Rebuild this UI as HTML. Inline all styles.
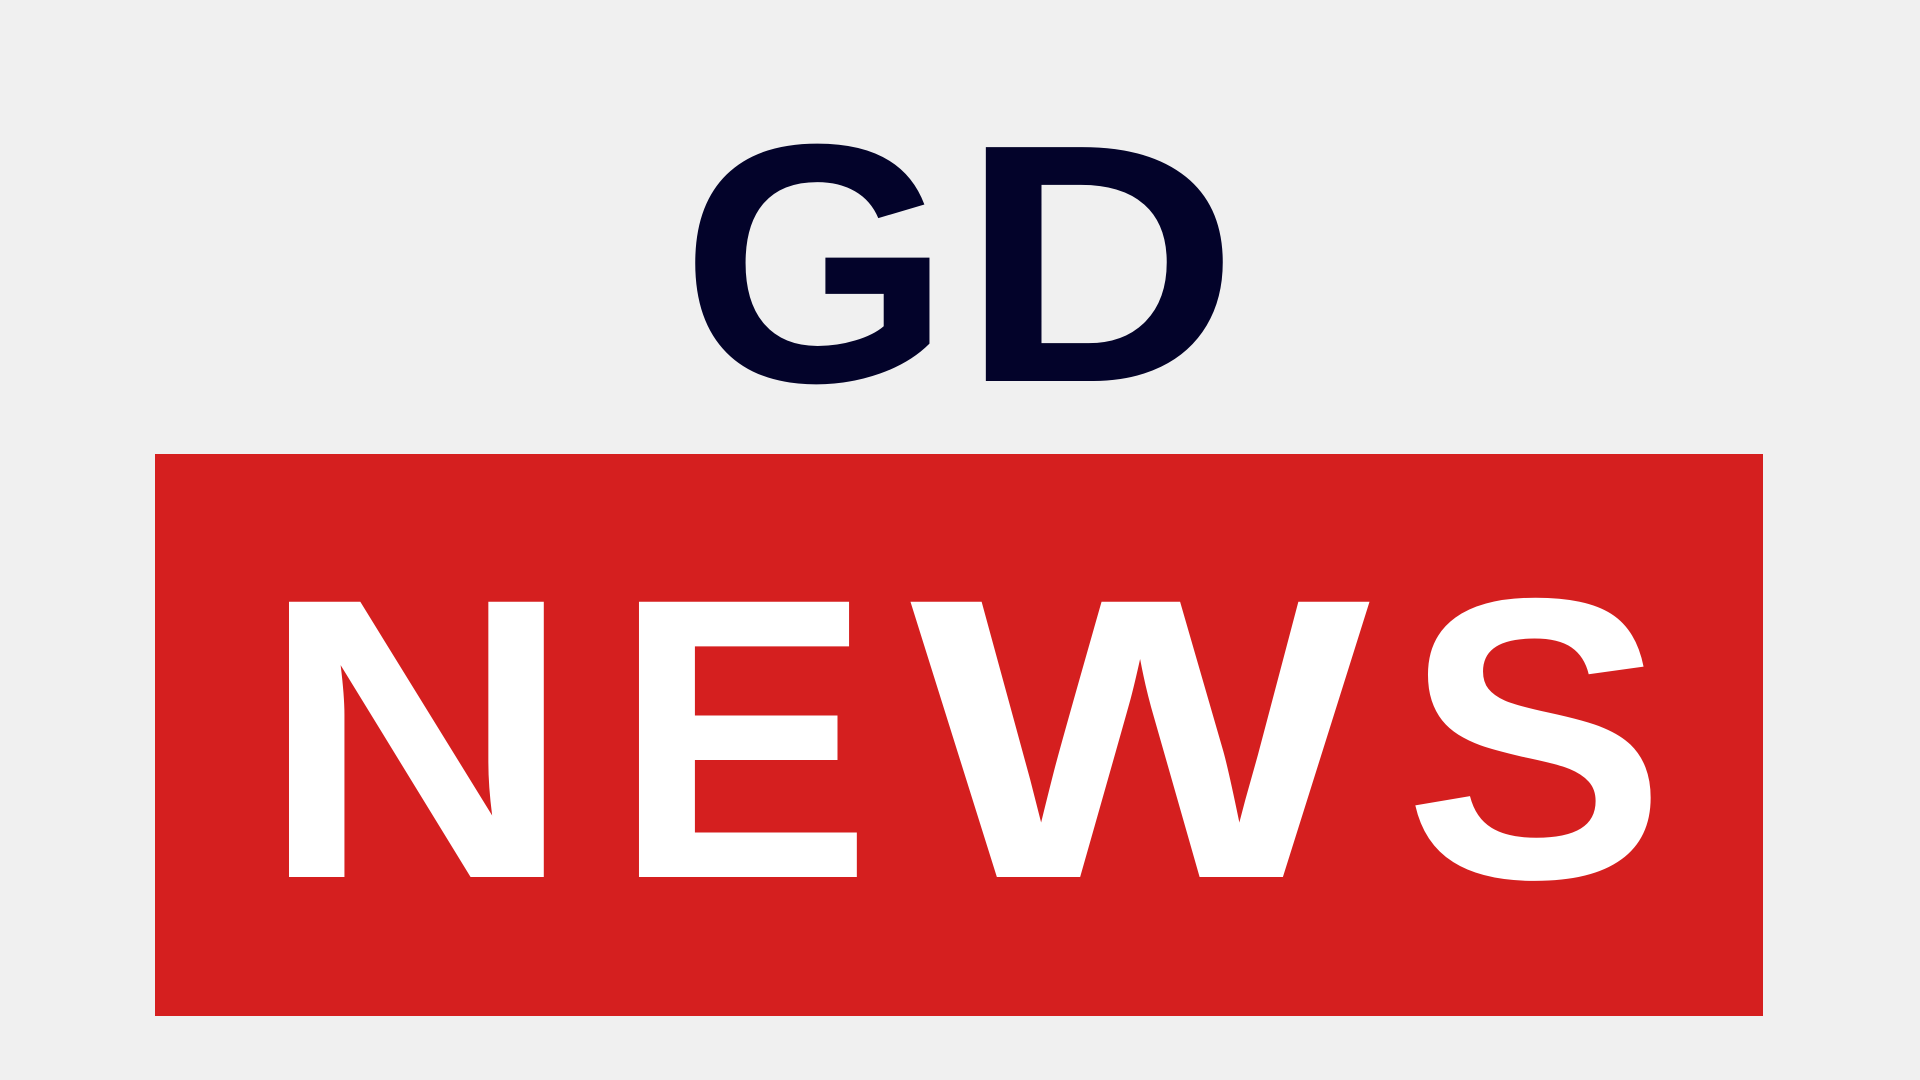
<!DOCTYPE html>
<html>
<head>
<meta charset="utf-8">
<style>
  html,body{margin:0;padding:0;background:#f0f0f0;}
  svg{display:block;}
</style>
</head>
<body>
<svg width="1920" height="1080" viewBox="0 0 1920 1080" xmlns="http://www.w3.org/2000/svg">
  <rect x="0" y="0" width="1920" height="1080" fill="#f0f0f0"/>
  <g font-family="Liberation Sans, sans-serif" font-weight="bold">
    <text x="681" y="381" font-size="340" fill="#03032a" textLength="270" lengthAdjust="spacingAndGlyphs">G</text>
    <text x="960" y="381" font-size="340" fill="#03032a" textLength="279" lengthAdjust="spacingAndGlyphs">D</text>
  </g>
  <rect x="155" y="454" width="1608" height="562" fill="#d51f1f"/>
  <g font-family="Liberation Sans, sans-serif" font-weight="bold" fill="#ffffff" font-size="400">
    <text x="260" y="877" textLength="313" lengthAdjust="spacingAndGlyphs">N</text>
    <text x="613" y="877" textLength="259" lengthAdjust="spacingAndGlyphs">E</text>
    <text x="910" y="877" textLength="460" lengthAdjust="spacingAndGlyphs">W</text>
    <text x="1404" y="877" textLength="262" lengthAdjust="spacingAndGlyphs">S</text>
  </g>
</svg>
</body>
</html>
